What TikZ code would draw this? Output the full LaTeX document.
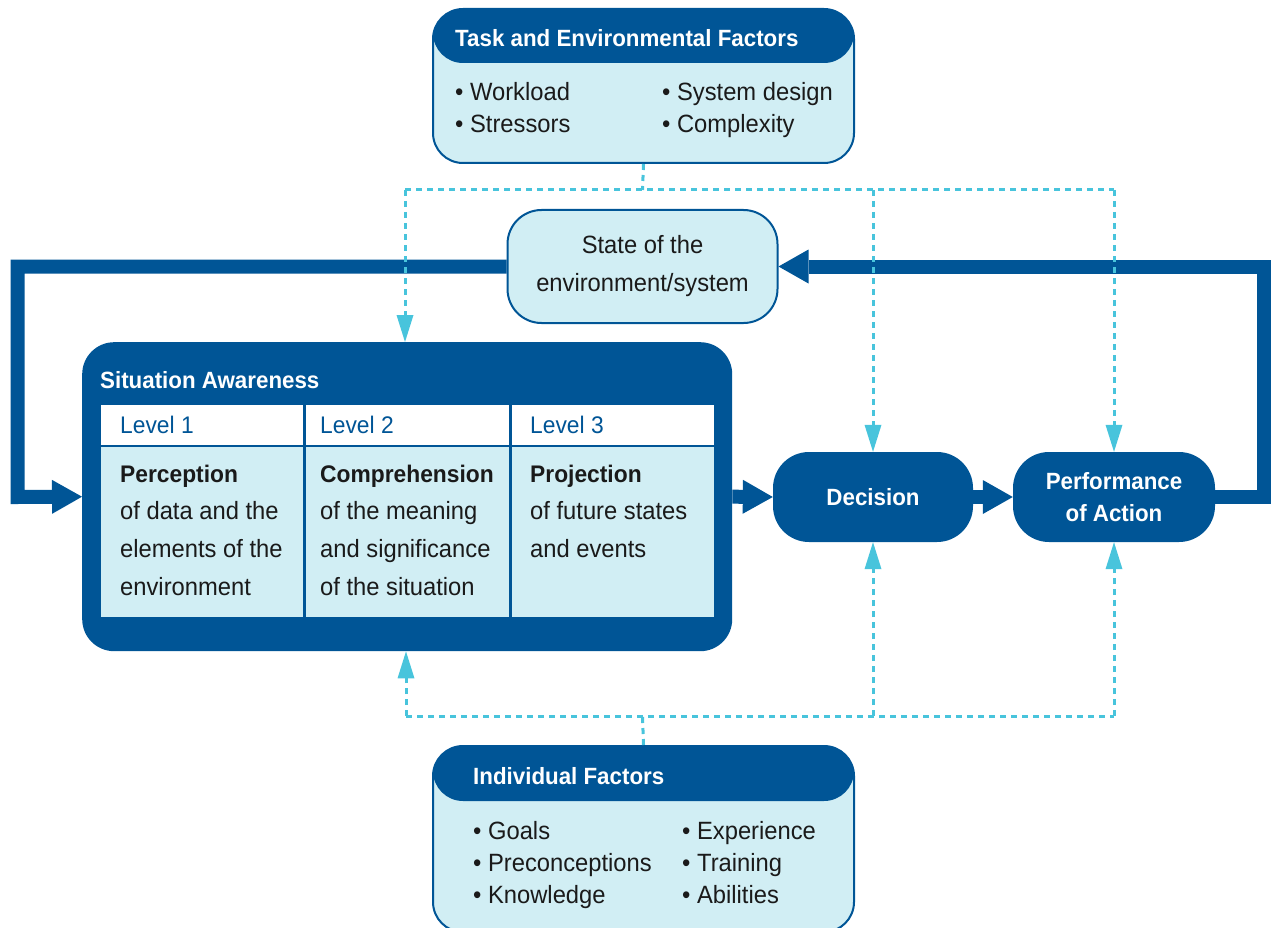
\documentclass[tikz,border=0pt]{standalone}
\usepackage{fontspec}
\setmainfont{Liberation Sans}[FakeStretch=0.95]
\usetikzlibrary{arrows.meta}
\definecolor{sablue}{RGB}{0,85,150}
\definecolor{salight}{RGB}{209,238,244}
\definecolor{sacyan}{RGB}{72,196,220}
\definecolor{satext}{RGB}{26,26,26}
\begin{document}
\begin{tikzpicture}[x=1pt,y=-1pt,
  fbox/.style={draw=sablue, line width=2pt, fill=salight, rounded corners=30pt,
    inner sep=0pt, anchor=north west, minimum width=421pt},
  hdr/.style={path picture={\fill[sablue] ([yshift=2pt]path picture bounding box.north west)
    rectangle ([yshift=-#1]path picture bounding box.north east);}},
  tl/.style={anchor=base west, inner sep=0pt, text=satext, font=\fontsize{25}{30}\selectfont},
  ttl/.style={anchor=base west, inner sep=0pt, text=white, font=\bfseries\fontsize{23.5}{28}\selectfont},
  lvl/.style={anchor=base west, inner sep=0pt, text=sablue, font=\fontsize{24}{28}\selectfont},
  bld/.style={anchor=base west, inner sep=0pt, text=satext, font=\bfseries\fontsize{24}{28}\selectfont},
  cellh/.style={fill=white, inner sep=0pt, anchor=north west, minimum height=39.5pt},
  cellb/.style={fill=salight, inner sep=0pt, anchor=north west, minimum height=170pt},
  act/.style={fill=sablue, rounded corners=36pt, minimum height=90pt, inner sep=0pt,
    text=white, align=center, font=\bfseries\fontsize{23.5}{32}\selectfont},
  thickl/.style={draw=sablue, line width=14pt},
  bigtip/.style={-{Triangle[length=30pt,width=34pt,line width=0pt]}},
  dotl/.style={draw=sacyan, line width=3pt, dash pattern=on 6pt off 5pt},
  dottip/.style={-{Triangle[length=27pt,width=17pt,line width=0pt]}}
]
\useasboundingbox (0,0) rectangle (1271,928);
\clip (0,0) rectangle (1271,928);

% Task and environmental factors
\node[fbox, hdr=54pt, minimum height=154pt] (task) at (432,8) {};
\node[ttl] (tasktitle) at (455,47) {Task and Environmental Factors};
\node[tl] (tw) at (455,101) {• Workload};
\node[tl] (ts) at (455,133) {• Stressors};
\node[tl] (tsd) at (662,101) {• System design};
\node[tl] (tc) at (662,133) {• Complexity};

% State of environment
\node[draw=sablue, line width=2pt, fill=salight, rounded corners=34pt,
  minimum width=270pt, minimum height=113pt, inner sep=0pt, align=center,
  text=satext, font=\fontsize{25}{38}\selectfont] (state) at (642.5,266.5)
  {State of the\\environment/system};

% Situation awareness
\node[fill=sablue, rounded corners=32pt, minimum width=650pt, minimum height=309pt,
  inner sep=0pt, anchor=north west] (sa) at (82,342) {};
\node[ttl] (satitle) at (100,388) {Situation Awareness};
\node[cellh, minimum width=202pt] (h1) at (101,405) {};
\node[cellh, minimum width=203pt] (h2) at (306,405) {};
\node[cellh, minimum width=202pt] (h3) at (512,405) {};
\node[cellb, minimum width=202pt] (b1) at (101,447) {};
\node[cellb, minimum width=203pt] (b2) at (306,447) {};
\node[cellb, minimum width=202pt] (b3) at (512,447) {};
\node[lvl] (l1) at (120,433) {Level 1};
\node[lvl] (l2) at (320,433) {Level 2};
\node[lvl] (l3) at (530,433) {Level 3};
\node[bld] (p1) at (120,482) {Perception};
\node[tl] (p2) at (120,519.5) {of data and the};
\node[tl] (p3) at (120,557) {elements of the};
\node[tl] (p4) at (120,595) {environment};
\node[bld] (c1) at (320,482) {Comprehension};
\node[tl] (c2) at (320,519.5) {of the meaning};
\node[tl] (c3) at (320,557) {and significance};
\node[tl] (c4) at (320,595) {of the situation};
\node[bld] (j1) at (530,482) {Projection};
\node[tl] (j2) at (530,519.5) {of future states};
\node[tl] (j3) at (530,557) {and events};

% Decision and performance
\node[act, minimum width=200pt] (dec) at (873,497) {Decision};
\node[act, minimum width=202pt] (perf) at (1114,497) {Performance\\of Action};

% Individual factors
\node[fbox, hdr=55pt, minimum height=186pt] (ind) at (432,745) {};
\node[ttl] (indtitle) at (473,784) {Individual Factors};
\node[tl] (ig) at (473,839) {• Goals};
\node[tl] (ip) at (473,871) {• Preconceptions};
\node[tl] (ik) at (473,903) {• Knowledge};
\node[tl] (ie) at (682,839) {• Experience};
\node[tl] (it) at (682,871) {• Training};
\node[tl] (ia) at (682,903) {• Abilities};

% thick connectors
\coordinate (cl) at (17.5,497);
\coordinate (cr) at (1264,266.5);
\draw[thickl, bigtip] (state.west) -| (cl) -- (sa.west);
\draw[thickl, bigtip] (perf.east) -| (cr) -- (state.east);
\draw[thickl, bigtip] (sa.east) -- (dec.west);
\draw[thickl, bigtip] (dec.east) -- (perf.west);

% dotted influences from task factors
\coordinate (tm) at (642.5,190);
\coordinate (t1) at (405,190);
\coordinate (t2) at (873,190);
\coordinate (t3) at (1114,190);
\draw[dotl] (task.south) -- (tm);
\draw[dotl] (t1) -- (t3);
\draw[dotl, dottip] (t1) -- (t1 |- sa.north);
\draw[dotl, dottip] (t2) -- (t2 |- dec.north);
\draw[dotl, dottip] (t3) -- (t3 |- perf.north);

% dotted influences from individual factors
\coordinate (bm) at (642.5,716);
\coordinate (q1) at (406,716);
\coordinate (q2) at (873,716);
\coordinate (q3) at (1114,716);
\draw[dotl] (ind.north) -- (bm);
\draw[dotl] (q1) -- (q3);
\draw[dotl, dottip] (q1) -- (q1 |- sa.south);
\draw[dotl, dottip] (q2) -- (q2 |- dec.south);
\draw[dotl, dottip] (q3) -- (q3 |- perf.south);
\end{tikzpicture}
\end{document}
